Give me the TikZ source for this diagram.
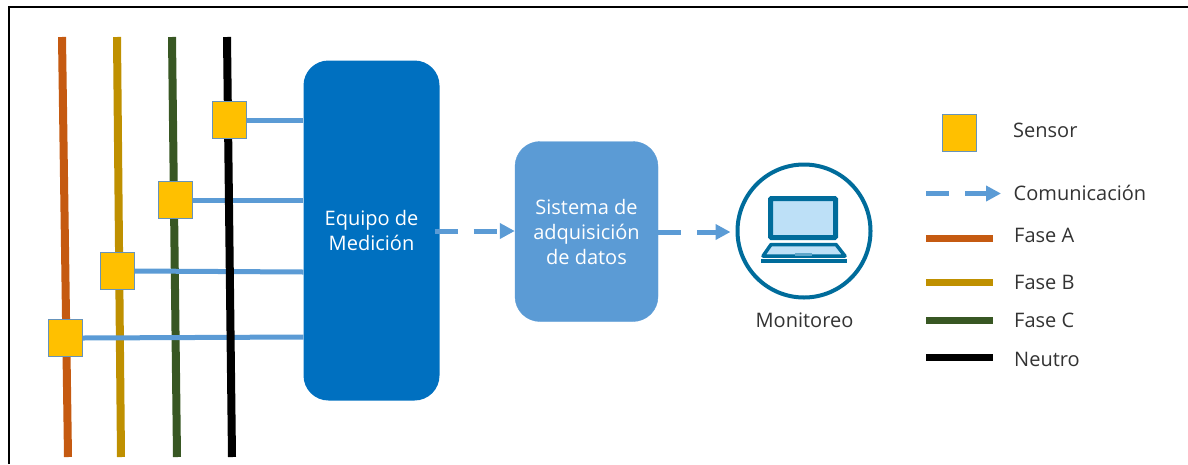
\documentclass[tikz,border=0pt]{standalone}
\usepackage{fontspec}
\setmainfont{Open Sans}
\usetikzlibrary{arrows.meta,backgrounds}
\definecolor{faseA}{HTML}{C55A11}
\definecolor{faseB}{HTML}{BF9000}
\definecolor{faseC}{HTML}{385723}
\definecolor{com}{HTML}{5B9BD5}
\definecolor{equipo}{HTML}{0070C0}
\definecolor{sens}{HTML}{FFC000}
\definecolor{teal}{HTML}{006C9B}
\definecolor{screen}{HTML}{BDE0F7}
\tikzset{
 phase/.style={line width=8pt},
 link/.style={draw=com,line width=5pt},
 sensorbox/.style={draw=com!70!gray,line width=1pt,fill=sens,minimum width=34pt,minimum height=37pt,inner sep=0pt},
 flow/.style={draw=com,line width=5pt,dash pattern=on 23pt off 16pt,-{Triangle[length=15pt,width=15pt]}},
 lbl/.style={font=\fontsize{20}{24}\selectfont,text=black!80,anchor=west,inner sep=0pt},
 wlbl/.style={font=\fontsize{20}{25}\selectfont,text=white,align=center,inner sep=0pt},
}
\begin{document}
\begin{tikzpicture}[x=1pt,y=-1pt]
\useasboundingbox (0,0) rectangle (1188,464);
\draw[line width=2pt] (9,464) -- (9,6.5) -- (1188,6.5);
% main boxes
\node[draw=none,fill=equipo,rounded corners=25pt,minimum width=136pt,minimum height=340pt,inner sep=0pt,wlbl] (eq) at (371.5,230.5) {Equipo de\\Medición};
\node[draw=com,fill=com,rounded corners=25pt,minimum width=143pt,minimum height=180pt,inner sep=0pt,wlbl] (sis) at (586.5,231.5) {Sistema de\\adquisición\\de datos};
\node[draw=teal,line width=4pt,circle,minimum size=133pt,inner sep=0pt] (mon) at (804,231) {};
\node[lbl,anchor=center] (montxt) at (804.5,320) {Monitoreo};
% sensors
\node[sensorbox] (s4) at (229,120) {};
\node[sensorbox] (s3) at (175,200) {};
\node[sensorbox] (s2) at (117.5,271) {};
\node[sensorbox] (s1) at (65.5,338) {};
\begin{pgfonlayer}{background}
\draw[phase,faseA] (62,37) -- (68,457);
\draw[phase,faseB] (117,37) -- (121,457);
\draw[phase,faseC] (172,37) -- (177,457);
\draw[link] (s4.east) -- (s4.east -| eq.west);
\draw[link] (s3.east) -- (s3.east -| eq.west);
\draw[link] (s2.east) -- (eq.west |- 0,272);
\draw[link] (s1.east) -- (eq.west |- 0,337);
\draw[phase,black] (227,37) -- (232,457);
\end{pgfonlayer}
% flows
\draw[flow] ([xshift=-5pt]eq.east |- 0,231) -- (sis.west |- 0,231);
\draw[flow] (sis.east |- 0,232) -- ([xshift=-5pt]mon.west |- 0,232);
% laptop
\draw[teal,fill=screen,line width=5pt,rounded corners=1pt] (770.5,198.5) rectangle (835.5,237.5);
\draw[teal,fill=screen,line width=3.5pt,line join=round] (771,244.5) -- (836,244.5) -- (845,256) -- (763,256) -- cycle;
\fill[teal!50!screen] (795,253) rectangle (812,256);
\fill[teal] (761,259) rectangle (847,263);
% legend
\node[sensorbox] (lsens) at (959,133) {};
\node[lbl] (tsens) at (1013,130.5) {Sensor};
\coordinate (c0) at (926,193.5); \coordinate (c1) at (1001,193.5);
\draw[flow] (c0) -- (c1);
\node[lbl] (tcom) at (1013.5,192.5) {Comunicación};
\foreach \n/\c/\y/\ty/\t in {a/faseA/238.5/235.5/Fase A,b/faseB/282/282.5/Fase B,c/faseC/320/320.5/Fase C,n/black/357/359/Neutro}{
  \coordinate (l\n) at (926,\y); \coordinate (r\n) at (993,\y);
  \draw[\c,line width=7pt] (l\n) -- (r\n);
  \node[lbl] (t\n) at (1014,\ty) {\t};
}
\end{tikzpicture}
\end{document}
